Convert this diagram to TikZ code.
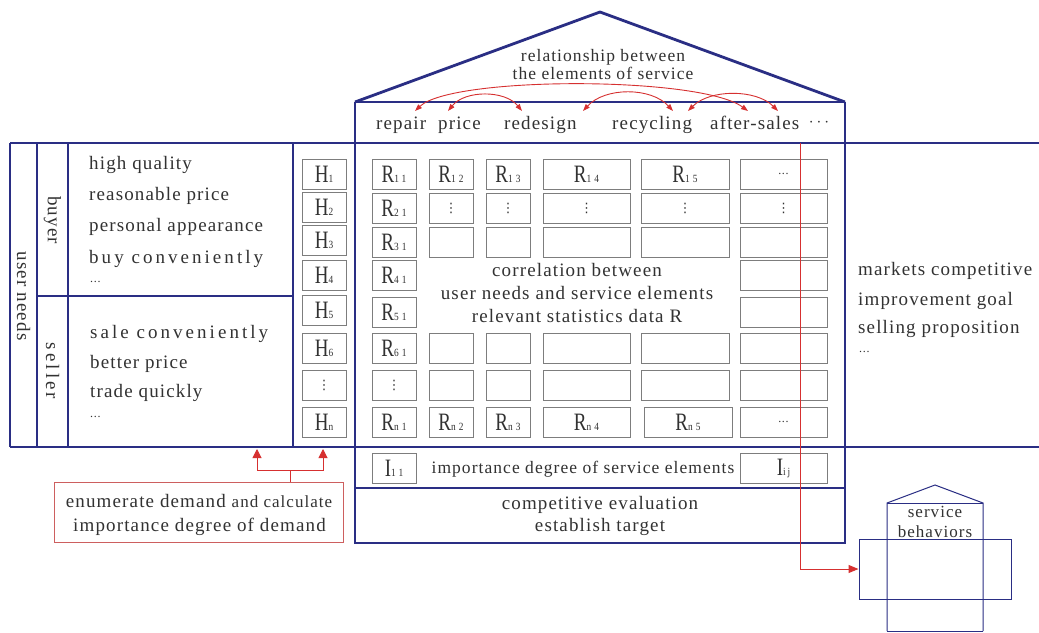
\documentclass[tikz,border=0pt]{standalone}
\usepackage{fontspec}
\setmainfont{Liberation Serif}[LetterSpace=6]
\newfontfamily\widefont{Liberation Serif}[LetterSpace=16]
\newfontfamily\condfont{Liberation Serif}[FakeStretch=0.76]
\newfontfamily\subfont{Liberation Serif}[FakeStretch=0.85,LetterSpace=28]
\newfontfamily\dejavu{DejaVu Sans}
\usetikzlibrary{arrows.meta}
\definecolor{navy}{RGB}{42,46,132}
\definecolor{redl}{RGB}{214,48,48}
\definecolor{boxred}{RGB}{205,95,95}
\definecolor{txt}{RGB}{50,50,50}
\definecolor{cellgray}{RGB}{125,125,125}
\newcommand{\cl}[2]{{\condfont\fontsize{25}{25}\selectfont #1}{\subfont\fontsize{11}{11}\selectfont #2}}
\newcommand{\vd}{{\dejavu\fontsize{13}{13}\selectfont ⋮}}
\newcommand{\hd}{{\fontsize{12}{12}\selectfont...}}
\begin{document}
\begin{tikzpicture}[x=1pt,y=-1pt,
  navyline/.style={draw=navy,line width=2.8pt},
  thinnavy/.style={draw=navy,line width=1pt},
  cell/.style={draw=cellgray,line width=0.9pt,minimum height=30pt,inner sep=0pt,text=txt},
  lbl/.style={text=txt,inner sep=0pt,font=\fontsize{19}{22}\selectfont},
  small/.style={text=txt,inner sep=0pt,font=\fontsize{17.5}{20}\selectfont},
  wlbl/.style={text=txt,inner sep=0pt,font=\widefont\fontsize{19}{22}\selectfont},
  redarc/.style={draw=redl,line width=0.9pt,{Triangle[length=7pt,width=5pt]}-{Triangle[length=7pt,width=5pt]}},
  redup/.style={draw=redl,line width=1pt,-{Triangle[length=9pt,width=9pt]}},
  redline/.style={draw=redl,line width=1pt}
]
\fill[white] (0,0) rectangle (1039,632);
\useasboundingbox (0,0) rectangle (1039,632);

% ---------- main frame ----------
\draw[navyline] (355,102) -- (600,12) -- (845,102);
\draw[navyline] (355,102) -- (845,102);
\draw[navyline] (10,143) -- (1039,143);
\draw[navyline] (10,447) -- (1039,447);
\draw[navyline] (10,143) -- (10,447);
\draw[navyline] (37,143) -- (37,447);
\draw[navyline] (68,143) -- (68,447);
\draw[navyline] (293,143) -- (293,447);
\draw[navyline] (37,296) -- (293,296);
\draw[navyline] (355,102) -- (355,543) -- (845,543) -- (845,102);
\draw[navyline] (355,488) -- (845,488);

% ---------- roof ----------
\node[small,anchor=base] (rt1) at (603,61) {relationship between};
\node[small,anchor=base] (rt2) at (603,79) {the elements of service};

\node[lbl,anchor=base west] (repair) at (376,129) {repair};
\node[lbl,anchor=base west] (price) at (438,129) {price};
\node[lbl,anchor=base west] (redesign) at (504,129) {redesign};
\node[lbl,anchor=base west] (recycling) at (612,129) {recycling};
\node[lbl,anchor=base west] (aftersales) at (710,129) {after-sales};
\node[text=txt,inner sep=0pt,font=\fontsize{19}{22}\selectfont] (edots) at (819,123) {$\cdots$};

\coordinate (a1) at (415,111);
\coordinate (a2) at (748,111);
\coordinate (b1) at (448,111);
\coordinate (b2) at (522,111);
\coordinate (c1) at (583,111);
\coordinate (c2) at (673,111);
\coordinate (d1) at (688,111);
\coordinate (d2) at (778,111);
\draw[redarc] (a1) .. controls (452,76) and (700,76) .. (a2);
\draw[redarc] (b1) .. controls (465,90) and (505,90) .. (b2);
\draw[redarc] (c1) .. controls (605,87) and (651,87) .. (c2);
\draw[redarc] (d1) .. controls (710,89) and (756,89) .. (d2);

% ---------- left side ----------
\node[lbl,rotate=-90] (un) at (23.5,296) {user needs};
\node[lbl,rotate=-90] (buyer) at (52.5,220) {buyer};
\node[wlbl,rotate=-90] (seller) at (52.5,371) {seller};

\node[lbl,anchor=base west] (n1) at (89,169) {high quality};
\node[lbl,anchor=base west] (n2) at (89,200) {reasonable price};
\node[lbl,anchor=base west] (n3) at (89,231) {personal appearance};
\node[wlbl,anchor=base west] (n4) at (89,263) {buy conveniently};
\node[text=txt,inner sep=0pt,anchor=base west] (n5) at (90,282) {\hd};
\node[wlbl,anchor=base west] (s1) at (90,338) {sale conveniently};
\node[lbl,anchor=base west] (s2) at (90,368) {better price};
\node[lbl,anchor=base west] (s3) at (90,397) {trade quickly};
\node[text=txt,inner sep=0pt,anchor=base west] (s4) at (90,417) {\hd};

% H column
\node[cell,minimum width=44pt] (h1) at (324,174) {\cl{H}{1}};
\node[cell,minimum width=44pt] (h2) at (324,207) {\cl{H}{2}};
\node[cell,minimum width=44pt] (h3) at (324,240.5) {\cl{H}{3}};
\node[cell,minimum width=44pt] (h4) at (324,275.5) {\cl{H}{4}};
\node[cell,minimum width=44pt] (h5) at (324,310) {\cl{H}{5}};
\node[cell,minimum width=44pt] (h6) at (324,348) {\cl{H}{6}};
\node[cell,minimum width=44pt] (h7) at (324,385.5) {\vd};
\node[cell,minimum width=44pt] (h8) at (324,422) {\cl{H}{n}};

% ---------- R grid ----------
\tikzset{c1/.style={cell,minimum width=44pt},c4/.style={cell,minimum width=87pt},c5/.style={cell,minimum width=88pt}}
% row 1
\node[c1] (r11) at (394,174) {\cl{R}{11}};
\node[c1] (r12) at (451,174) {\cl{R}{12}};
\node[c1] (r13) at (508,174) {\cl{R}{13}};
\node[c4] (r14) at (586.5,174) {\cl{R}{14}};
\node[c5] (r15) at (685,174) {\cl{R}{15}};
\node[c4] (r16) at (783.5,174) {\hd};
% row 2
\node[c1] (r21) at (394,208) {\cl{R}{21}};
\node[c1] (r22) at (451,208) {\vd};
\node[c1] (r23) at (508,208) {\vd};
\node[c4] (r24) at (586.5,208) {\vd};
\node[c5] (r25) at (685,208) {\vd};
\node[c4] (r26) at (783.5,208) {\vd};
% row 3
\node[c1] (r31) at (394,242) {\cl{R}{31}};
\node[c1] (r32) at (451,242) {};
\node[c1] (r33) at (508,242) {};
\node[c4] (r34) at (586.5,242) {};
\node[c5] (r35) at (685,242) {};
\node[c4] (r36) at (783.5,242) {};
% row 4
\node[c1] (r41) at (394,275.5) {\cl{R}{41}};
\node[c4] (r46) at (783.5,275.5) {};
% row 5
\node[c1] (r51) at (394,312) {\cl{R}{51}};
\node[c4] (r56) at (783.5,312) {};
% row 6
\node[c1] (r61) at (394,348) {\cl{R}{61}};
\node[c1] (r62) at (451,348) {};
\node[c1] (r63) at (508,348) {};
\node[c4] (r64) at (586.5,348) {};
\node[c5] (r65) at (685,348) {};
\node[c4] (r66) at (783.5,348) {};
% row 7
\node[c1] (r71) at (394,385) {\vd};
\node[c1] (r72) at (451,385) {};
\node[c1] (r73) at (508,385) {};
\node[c4] (r74) at (586.5,385) {};
\node[c5] (r75) at (685,385) {};
\node[c4] (r76) at (783.5,385) {};
% row 8
\node[c1] (r81) at (394,422) {\cl{R}{n1}};
\node[c1] (r82) at (451,422) {\cl{R}{n2}};
\node[c1] (r83) at (508,422) {\cl{R}{n3}};
\node[c4] (r84) at (586.5,422) {\cl{R}{n4}};
\node[c5] (r85) at (688,422) {\cl{R}{n5}};
\node[c4] (r86) at (783.5,422) {\hd};

\node[lbl,anchor=base] (cor1) at (577,276) {correlation between};
\node[lbl,anchor=base] (cor2) at (577,299) {user needs and service elements};
\node[lbl,anchor=base] (cor3) at (577,322) {relevant statistics data R};

% ---------- importance row ----------
\node[c1] (i11) at (394,468) {\cl{I}{11}};
\node[c4] (iij) at (783.5,468) {\cl{I}{i\,j}};
\node[text=txt,inner sep=0pt,font=\fontsize{17.5}{20}\selectfont,anchor=base] (imp) at (583,473) {importance degree of service elements};

\node[lbl,anchor=base] (comp1) at (600,509) {competitive evaluation};
\node[lbl,anchor=base] (comp2) at (600,531) {establish target};

% ---------- right side ----------
\node[lbl,anchor=base west] (m1) at (858,275) {markets competitive};
\node[lbl,anchor=base west] (m2) at (858,305) {improvement goal};
\node[lbl,anchor=base west] (m3) at (858,333) {selling proposition};
\node[text=txt,inner sep=0pt,anchor=base west] (m4) at (859,352) {\hd};

% ---------- bottom left annotation ----------
\node[draw=boxred,line width=0.9pt,minimum width=289pt,minimum height=60pt,inner sep=0pt] (enumbox) at (198.5,512) {};
\node[lbl,anchor=base] (e1) at (199,507) {enumerate demand {\fontsize{17}{20}\selectfont and calculate}};
\node[lbl,anchor=base] (e2) at (199.5,531) {importance degree of demand};
\coordinate (jn) at (290,470);
\coordinate (ua) at (257,449);
\coordinate (ub) at (323,449);
\draw[redline] (enumbox.north -| jn) -- (jn);
\draw[redup] (jn) -| (ua);
\draw[redup] (jn) -| (ub);

% ---------- service behaviors ----------
\draw[thinnavy] (887,631) -- (887,503) -- (935,485) -- (983,503) -- (983,631);
\draw[thinnavy] (887,503) -- (983,503);
\draw[thinnavy] (887,631) -- (983,631);
\node[thinnavy,draw,minimum width=152pt,minimum height=60pt,inner sep=0pt] (sb) at (935,569) {};
\node[text=txt,inner sep=0pt,font=\fontsize{17}{20}\selectfont,anchor=base] (sv1) at (935,517) {service};
\node[text=txt,inner sep=0pt,font=\fontsize{17}{20}\selectfont,anchor=base] (sv2) at (935,537) {behaviors};

\coordinate (rs) at (800,143);
\draw[redline,-{Triangle[length=10pt,width=8pt]}] (rs) |- (sb.west);
\end{tikzpicture}
\end{document}
